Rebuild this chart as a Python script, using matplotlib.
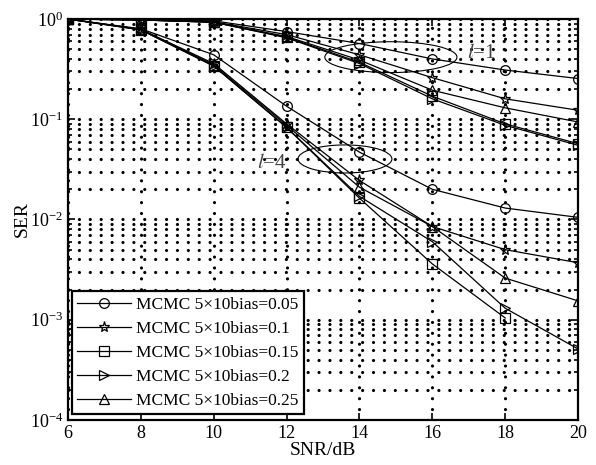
import numpy as np
import matplotlib
matplotlib.use("Agg")
import matplotlib.pyplot as plt
from matplotlib.patches import Ellipse

plt.rcParams['font.family'] = ['Liberation Serif', 'DejaVu Serif']
plt.rcParams['mathtext.fontset'] = 'stix'

snr = [6, 8, 10, 12, 14, 16, 18, 20]

labels = ['MCMC 5×10bias=0.05', 'MCMC 5×10bias=0.1', 'MCMC 5×10bias=0.15',
          'MCMC 5×10bias=0.2', 'MCMC 5×10bias=0.25']
markers = ['o', '*', 's', '>', '^']

# SER curves, l = 1
ser_l1_005 = [1.0, 0.99, 0.96, 0.75, 0.57, 0.40, 0.31, 0.255]
ser_l1_010 = [1.0, 0.98, 0.94, 0.70, 0.44, 0.26, 0.16, 0.123]
ser_l1_015 = [1.0, 0.98, 0.93, 0.66, 0.37, 0.17, 0.090, 0.057]
ser_l1_020 = [1.0, 0.98, 0.93, 0.65, 0.36, 0.16, 0.087, 0.055]
ser_l1_025 = [1.0, 0.98, 0.93, 0.67, 0.39, 0.195, 0.13, 0.094]

# SER curves, l = 4
ser_l4_005 = [1.0, 0.80, 0.44, 0.135, 0.047, 0.020, 0.013, 0.0105]
ser_l4_010 = [1.0, 0.79, 0.36, 0.090, 0.0245, 0.0085, 0.0050, 0.0037]
ser_l4_015 = [1.0, 0.78, 0.34, 0.083, 0.0163, 0.0036, 0.00104, np.nan]
ser_l4_020 = [1.0, 0.78, 0.34, 0.083, 0.017, 0.0060, 0.0013, 0.00051]
ser_l4_025 = [1.0, 0.79, 0.35, 0.087, 0.021, 0.0085, 0.0026, 0.00154]

ser_l1 = [ser_l1_005, ser_l1_010, ser_l1_015, ser_l1_020, ser_l1_025]
ser_l4 = [ser_l4_005, ser_l4_010, ser_l4_015, ser_l4_020, ser_l4_025]

fig = plt.figure(figsize=(5.96, 4.65), dpi=100)
ax = fig.add_axes([0.114, 0.097, 0.856, 0.862])

style = dict(color='black', lw=0.9, markerfacecolor='none',
             markeredgecolor='black', markeredgewidth=0.9)
for lab, mk, y1, y4 in zip(labels, markers, ser_l1, ser_l4):
    ms = 8 if mk == '*' else 7
    ax.semilogy(snr, y1, marker=mk, ms=ms, label=lab, **style)
    ax.semilogy(snr, y4, marker=mk, ms=ms, **style)

ax.set_xlim(6, 20)
ax.set_ylim(1e-4, 1)
ax.set_xticks(range(6, 21, 2))
ax.xaxis.grid(True, which='major', color='black', lw=2.3,
              linestyle=(0, (0.01, 3.4)), dash_capstyle='round')
ax.yaxis.grid(True, which='both', color='black', lw=2.3,
              linestyle=(0, (0.01, 3.4)), dash_capstyle='round')
ax.set_axisbelow(True)

ax.tick_params(which='both', direction='in', top=True, right=True,
               labelsize=13, width=1.2)
ax.tick_params(which='major', length=5)
ax.tick_params(which='minor', length=3)
for s in ax.spines.values():
    s.set_linewidth(1.6)

ax.set_xlabel('SNR/dB', fontsize=14, labelpad=0)
ax.set_ylabel('SER', fontsize=14, labelpad=-1)

# group annotations
ax.add_patch(Ellipse((0.633, 0.905), 0.259, 0.077, transform=ax.transAxes,
                     fill=False, color='black', lw=0.8))
ax.add_patch(Ellipse((0.543, 0.651), 0.184, 0.070, transform=ax.transAxes,
                     fill=False, color='black', lw=0.8))
ax.text(0.81, 0.915, r'$l$=1', transform=ax.transAxes, fontsize=15,
        ha='center', va='center', color='#444444')
ax.text(0.4, 0.64, r'$l$=4', transform=ax.transAxes, fontsize=15,
        ha='center', va='center', color='#444444')

leg = ax.legend(loc='lower left', bbox_to_anchor=(0.008, 0.015), borderaxespad=0,
                fontsize=12.5, fancybox=False, framealpha=1, edgecolor='black',
                handlelength=3.1, handletextpad=0.3, labelspacing=0.45,
                borderpad=0.3)
leg.get_frame().set_linewidth(1.6)

fig.savefig('out.png', dpi=100)
